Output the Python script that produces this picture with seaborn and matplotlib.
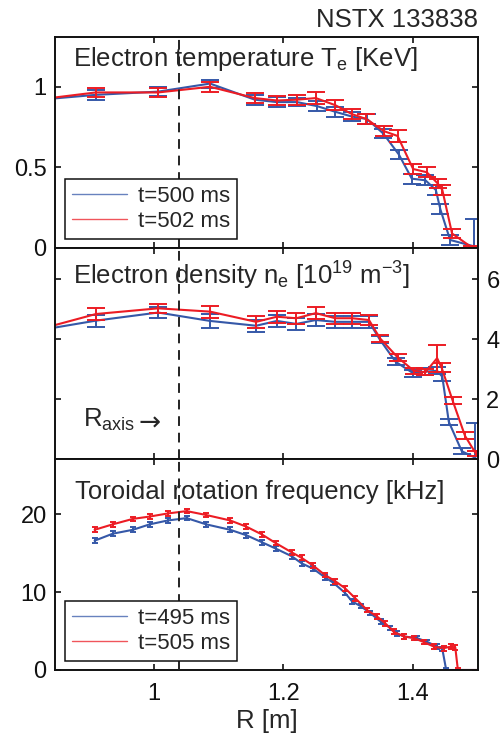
import matplotlib
matplotlib.use("Agg")
import matplotlib.pyplot as plt
import seaborn as sns
import numpy as np
from matplotlib.lines import Line2D

# ---------------- data ----------------
# Electron temperature [keV]
R_te_b = [0.81, 0.911, 1.007, 1.087, 1.156, 1.19, 1.221, 1.252, 1.28, 1.306, 1.329, 1.354, 1.378, 1.398, 1.419, 1.435, 1.442, 1.457, 1.494]
te_b = [0.915, 0.95, 0.97, 1.02, 0.92, 0.905, 0.905, 0.88, 0.845, 0.815, 0.8, 0.71, 0.58, 0.43, 0.42, 0.36, 0.24, 0.05, 0.01]
te_err_b = [0.03, 0.03, 0.03, 0.025, 0.03, 0.03, 0.025, 0.03, 0.03, 0.03, 0.03, 0.03, 0.03, 0.03, 0.03, 0.03, 0.03, 0.03, 0.17]

R_te_r = [0.81, 0.911, 1.007, 1.087, 1.156, 1.19, 1.221, 1.25, 1.28, 1.306, 1.328, 1.355, 1.376, 1.4, 1.421, 1.438, 1.445, 1.46, 1.49, 1.52]
te_r = [0.915, 0.965, 0.965, 1.0, 0.93, 0.915, 0.92, 0.93, 0.886, 0.83, 0.8, 0.725, 0.695, 0.49, 0.47, 0.4, 0.36, 0.09, 0.005, 0.0]
te_err_r = [0.03, 0.03, 0.03, 0.03, 0.03, 0.03, 0.03, 0.035, 0.03, 0.03, 0.03, 0.03, 0.035, 0.03, 0.03, 0.03, 0.03, 0.03, 0.01, 0.0]

# Electron density [1e19 m^-3]
R_ne_b = [0.81, 0.911, 1.007, 1.087, 1.158, 1.19, 1.22, 1.25, 1.28, 1.306, 1.332, 1.349, 1.373, 1.4, 1.419, 1.437, 1.445, 1.455, 1.475, 1.496]
ne_b = [4.25, 4.62, 4.89, 4.61, 4.45, 4.61, 4.51, 4.64, 4.58, 4.58, 4.58, 3.98, 3.25, 2.87, 2.92, 2.95, 2.75, 1.25, 0.27, 0.05]
ne_err_b = [0.2, 0.2, 0.18, 0.22, 0.2, 0.2, 0.2, 0.2, 0.2, 0.2, 0.2, 0.12, 0.12, 0.12, 0.12, 0.12, 0.15, 0.1, 0.1, 1.15]

R_ne_r = [0.81, 0.911, 1.007, 1.087, 1.158, 1.19, 1.22, 1.25, 1.28, 1.306, 1.332, 1.349, 1.376, 1.401, 1.419, 1.437, 1.444, 1.461, 1.48, 1.497]
ne_r = [4.25, 4.84, 5.03, 4.92, 4.58, 4.75, 4.7, 4.87, 4.7, 4.7, 4.64, 4.03, 3.4, 2.95, 2.9, 3.37, 3.05, 1.95, 0.78, 0.18]
ne_err_r = [0.2, 0.2, 0.15, 0.2, 0.2, 0.2, 0.18, 0.2, 0.18, 0.18, 0.18, 0.12, 0.12, 0.1, 0.1, 0.45, 0.15, 0.12, 0.12, 0.08]

# Toroidal rotation frequency [kHz]
R_vt_b = [0.909, 0.937, 0.968, 0.994, 1.022, 1.051, 1.081, 1.118, 1.143, 1.167, 1.188, 1.213, 1.228, 1.246, 1.264, 1.277, 1.295, 1.306, 1.319, 1.334, 1.350, 1.365, 1.375, 1.386, 1.406, 1.422, 1.437, 1.445, 1.451, 1.51]
f_b = [16.6, 17.5, 18.0, 18.7, 19.2, 19.5, 18.7, 18.0, 17.3, 16.4, 15.6, 14.6, 13.7, 13.0, 11.9, 11.2, 9.9, 8.8, 8.2, 7.3, 6.2, 5.4, 4.7, 4.3, 4.1, 3.6, 3.0, 2.7, 0.0, 0.0]
R_vt_r = [0.909, 0.937, 0.968, 0.994, 1.022, 1.051, 1.081, 1.118, 1.143, 1.167, 1.188, 1.213, 1.228, 1.246, 1.264, 1.280, 1.295, 1.311, 1.329, 1.344, 1.357, 1.370, 1.386, 1.401, 1.416, 1.432, 1.447, 1.458, 1.465, 1.469, 1.51]
f_r = [18.0, 18.7, 19.4, 19.7, 20.1, 20.4, 19.9, 19.2, 18.4, 17.4, 16.3, 15.1, 14.4, 13.4, 12.2, 11.4, 10.5, 9.2, 7.7, 6.9, 6.0, 4.9, 4.3, 4.1, 3.6, 3.0, 2.8, 3.0, 2.9, 0.0, 0.0]
f_err = 0.3

R_axis = 1.039
labels_top = ["t=500 ms", "t=502 ms"]
labels_bot = ["t=495 ms", "t=505 ms"]
x_ticks = [1.0, 1.2, 1.4]
x_ticklabels = ["1", "1.2", "1.4"]

# ---------------- style ----------------
sns.set_theme(style="ticks")
plt.rcParams["font.family"] = ["Liberation Sans", "DejaVu Sans"]
plt.rcParams["mathtext.default"] = "regular"
plt.rcParams["axes.linewidth"] = 1.4
plt.rcParams["axes.edgecolor"] = "#111111"

BLUE = "#3558A8"
RED = "#EC1C24"
FS = 17
FT = 18.5

fig = plt.figure(figsize=(5.03, 7.33), dpi=100)
L, W = 55 / 503, (478 - 55) / 503
def fy(p):
    return 1 - p / 733
ax1 = fig.add_axes([L, fy(248), W, fy(37.3) - fy(248)])
ax2 = fig.add_axes([L, fy(459.3), W, fy(248) - fy(459.3)])
ax3 = fig.add_axes([L, fy(670), W, fy(459.3) - fy(670)])

def draw(ax, R, y, err, color, cap):
    sns.lineplot(x=R, y=y, color=color, linewidth=1.5, ax=ax, estimator=None, sort=False)
    ax.errorbar(R, y, yerr=err, fmt="none", ecolor=color, elinewidth=1.4,
                capsize=cap, capthick=1.4)

draw(ax1, R_te_b, te_b, te_err_b, BLUE, 6.5)
draw(ax1, R_te_r, te_r, te_err_r, RED, 6.5)
draw(ax2, R_ne_b, ne_b, ne_err_b, BLUE, 6.5)
draw(ax2, R_ne_r, ne_r, ne_err_r, RED, 6.5)
draw(ax3, R_vt_b, f_b, f_err, BLUE, 2.0)
draw(ax3, R_vt_r, f_r, f_err, RED, 2.0)

for ax in (ax1, ax2, ax3):
    ax.set_xlim(0.848, 1.5)
    ax.axvline(R_axis, color="#222222", linewidth=1.4, dashes=(5, 3.5), zorder=5)
    ax.set_xticks(x_ticks)
    ax.tick_params(direction="in", length=4, width=1.2, top=True, right=True,
                   labelsize=FS, pad=6, colors="#111111")
    ax.set_ylabel("")
    ax.set_xlabel("")

ax1.set_ylim(0, 1.307)
ax1.set_yticks([0, 0.5, 1])
ax1.set_yticklabels(["0", "0.5", "1"])
ax1.tick_params(labelbottom=False)

ax2.set_ylim(0, 7.04)
ax2.set_yticks([0, 2, 4, 6])
ax2.set_yticklabels(["0", "2", "4", "6"])
ax2.tick_params(labelbottom=False, labelleft=False, labelright=True)

ax3.set_ylim(0, 27.05)
ax3.set_yticks([0, 10, 20])
ax3.set_yticklabels(["0", "10", "20"])
ax3.set_xticklabels(x_ticklabels)
ax3.tick_params(axis="x", pad=9)
ax3.set_xlabel("R [m]", fontsize=FT, labelpad=3)

# panel titles
ax1.text(0.043, 0.864, "Electron temperature T$_{e}$ [KeV]", transform=ax1.transAxes,
         fontsize=FT, va="baseline", ha="left", zorder=6)
ax2.text(0.043, 0.825, "Electron density n$_{e}$ [10$^{19}$ m$^{-3}$]", transform=ax2.transAxes,
         fontsize=FT, va="baseline", ha="left", zorder=6)
ax3.text(0.047, 0.81, "Toroidal rotation frequency [kHz]", transform=ax3.transAxes,
         fontsize=FT, va="baseline", ha="left", zorder=6)
ax2.text(0.066, 0.154, r"R$_{axis}$", transform=ax2.transAxes,
         fontsize=FT, va="baseline", ha="left")
ax2.text(0.197, 0.138, "\u2192", transform=ax2.transAxes, family="DejaVu Sans",
         fontsize=19, va="baseline", ha="left")

fig.text(478 / 503, fy(20), "NSTX 133838", ha="right", va="center", fontsize=FT)

def legend(ax, labels):
    handles = [Line2D([], [], color=BLUE, lw=1.0, alpha=0.75),
               Line2D([], [], color=RED, lw=1.0, alpha=0.75)]
    lg = ax.legend(handles, labels, loc="lower left", bbox_to_anchor=(0.024, 0.043),
                   borderaxespad=0, fontsize=16, handlelength=2.5, handletextpad=0.5,
                   labelspacing=0.2, borderpad=0.3, fancybox=False, framealpha=1)
    lg.get_frame().set_edgecolor("#111111")
    lg.get_frame().set_linewidth(1.1)

legend(ax1, labels_top)
legend(ax3, labels_bot)

fig.savefig("out.png", dpi=100)
